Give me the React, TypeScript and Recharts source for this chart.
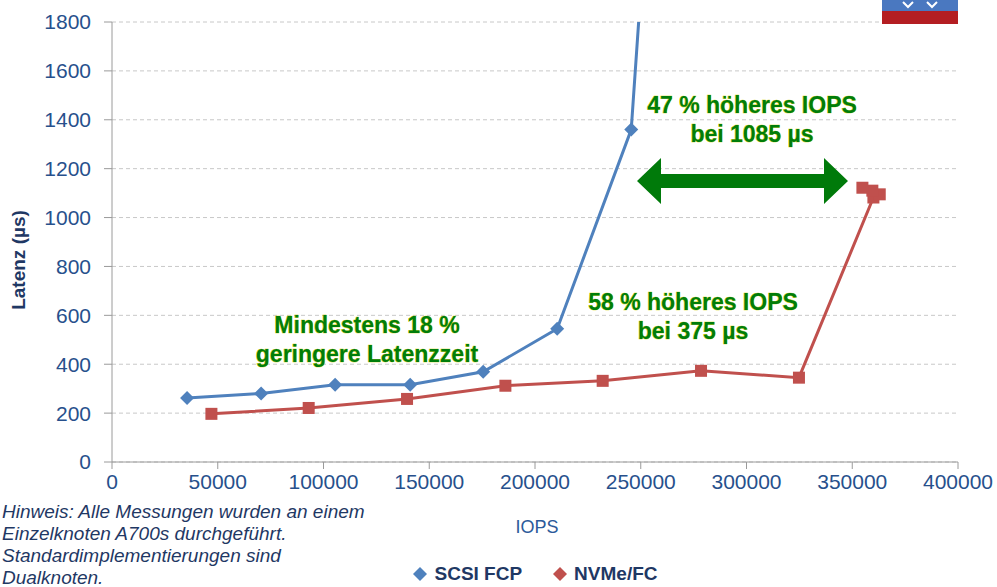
import { CartesianGrid, Legend, Line, LineChart, XAxis, YAxis } from "recharts";

const scsiIops = [35500, 70500, 105500, 141000, 175500, 210500, 245500, 251000];
const scsiLatency = [262, 280, 316, 316, 369, 545, 1360, 2050];

const nvmeIops = [47000, 93000, 139500, 186000, 232000, 278500, 324800, 360000, 363000, 359500, 354800];
const nvmeLatency = [197, 221, 258, 312, 332, 373, 345, 1082, 1095, 1110, 1122];

const xTicks = [0, 50000, 100000, 150000, 200000, 250000, 300000, 350000, 400000];
const yTicks = [0, 200, 400, 600, 800, 1000, 1200, 1400, 1600, 1800];

const noteLines = [
  "Hinweis: Alle Messungen wurden an einem",
  "Einzelknoten A700s durchgeführt.",
  "Standardimplementierungen sind",
  "Dualknoten.",
];

const scsiData = scsiIops.map((iops, i) => ({ iops, latency: scsiLatency[i] }));
const nvmeData = nvmeIops.map((iops, i) => ({ iops, latency: nvmeLatency[i] }));

const tickColor = "#27508c";
const green = "#007d0a";
const font = "'Liberation Sans', Arial, sans-serif";

const Diamond = (props: any) => {
  const { cx, cy } = props;
  if (cx == null || cy == null) return null;
  return (
    <path
      d={`M${cx},${cy - 7}L${cx + 7},${cy}L${cx},${cy + 7}L${cx - 7},${cy}Z`}
      fill="#4f81bd"
    />
  );
};

const Square = (props: any) => {
  const { cx, cy } = props;
  if (cx == null || cy == null) return null;
  return <rect x={cx - 6} y={cy - 6} width={12} height={12} fill="#c0504d" />;
};

const annotationStyle = {
  fill: green,
  stroke: "#d6d600",
  strokeWidth: 0.7,
  paintOrder: "stroke" as const,
  fontFamily: font,
  fontSize: 23,
  fontWeight: 700,
  textAnchor: "middle" as const,
};

function LegendContent() {
  return (
    <div
      style={{
        display: "flex",
        justifyContent: "center",
        gap: 30,
        fontFamily: font,
        fontSize: 19,
        fontWeight: 700,
        color: "#1f3864",
        paddingLeft: 112,
      }}
    >
      <span style={{ display: "flex", alignItems: "center", gap: 6 }}>
        <svg width={16} height={16}>
          <path d="M8,1L15,8L8,15L1,8Z" fill="#4f81bd" />
        </svg>
        SCSI FCP
      </span>
      <span style={{ display: "flex", alignItems: "center", gap: 6 }}>
        <svg width={16} height={16}>
          <path d="M8,1L15,8L8,15L1,8Z" fill="#c0504d" />
        </svg>
        NVMe/FC
      </span>
    </div>
  );
}

export default function App() {
  return (
    <div style={{ position: "fixed", top: 0, left: 0, width: 997, height: 587, background: "#fff" }}>
      <LineChart
        width={997}
        height={587}
        margin={{ top: 22, right: 39, bottom: 73, left: 0 }}
      >
        <CartesianGrid stroke="#c8c8c8" strokeDasharray="4 3" vertical={false} />
        <XAxis
          type="number"
          dataKey="iops"
          domain={[0, 400000]}
          ticks={xTicks}
          height={30}
          stroke="#9a9a9a"
          tickSize={7}
          tick={{ fill: tickColor, fontSize: 21, fontFamily: font }}
          tickMargin={5}
          allowDataOverflow
        />
        <YAxis
          type="number"
          dataKey="latency"
          domain={[0, 1800]}
          ticks={yTicks}
          width={112}
          stroke="#9a9a9a"
          tickSize={8}
          tickMargin={13}
          tick={{ fill: tickColor, fontSize: 21, fontFamily: font }}
          allowDataOverflow
        />
        <Legend verticalAlign="bottom" content={<LegendContent />} wrapperStyle={{ bottom: 2 }} />
        <Line
          data={scsiData}
          dataKey="latency"
          name="SCSI FCP"
          stroke="#4f81bd"
          strokeWidth={3}
          dot={<Diamond />}
          activeDot={false}
          isAnimationActive={false}
        />
        <Line
          data={nvmeData}
          dataKey="latency"
          name="NVMe/FC"
          stroke="#c0504d"
          strokeWidth={3}
          dot={<Square />}
          activeDot={false}
          isAnimationActive={false}
        />
      </LineChart>

      <svg
        width={997}
        height={587}
        style={{ position: "absolute", top: 0, left: 0, pointerEvents: "none" }}
      >
        <polygon
          points="637,181 661,158 661,174 824,174 824,158 848,181 824,204 824,188 661,188 661,204"
          fill="#007a0a"
        />
        <text x={752} y={113} {...annotationStyle}>47 % höheres IOPS</text>
        <text x={752} y={142} {...annotationStyle}>bei 1085 µs</text>
        <text x={693} y={310} {...annotationStyle}>58 % höheres IOPS</text>
        <text x={693} y={339} {...annotationStyle}>bei 375 µs</text>
        <text x={367} y={333} {...annotationStyle}>Mindestens 18 %</text>
        <text x={367} y={362} {...annotationStyle}>geringere Latenzzeit</text>
        <text
          x={25}
          y={260}
          transform="rotate(-90 25 260)"
          textAnchor="middle"
          fill="#1f3864"
          fontSize={19}
          fontWeight={700}
          fontFamily={font}
        >
          Latenz (µs)
        </text>
        <text
          x={537}
          y={533}
          textAnchor="middle"
          fill="#2c5a9a"
          fontSize={18}
          fontFamily={font}
        >
          IOPS
        </text>
        {noteLines.map((line, i) => (
          <text
            key={line}
            x={2}
            y={518 + i * 22}
            fill="#1f3864"
            fontSize={19}
            fontStyle="italic"
            fontFamily={font}
          >
            {line}
          </text>
        ))}
        <rect x={882} y={0} width={76} height={11} fill="#4a78c0" />
        <rect x={882} y={11} width={76} height={13} fill="#b41e22" />
        <path d="M903,2L908,7L913,2" stroke="#fff" strokeWidth={2} fill="none" />
        <path d="M927,2L932,7L937,2" stroke="#fff" strokeWidth={2} fill="none" />
      </svg>
    </div>
  );
}
